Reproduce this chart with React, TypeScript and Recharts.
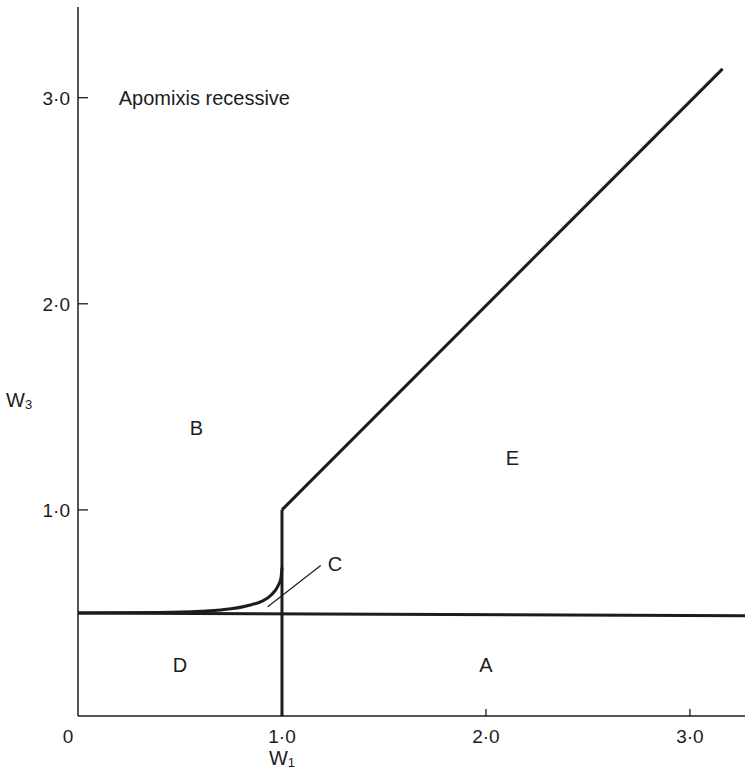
import { ComposedChart, Line, XAxis, YAxis, ReferenceDot } from "recharts";

// boundary lines (W1, W3)
const flatLine = [
  { x: 0, y: 0.5 },
  { x: 3.27, y: 0.487 },
];
const vertLine = [
  { x: 1, y: 0 },
  { x: 1, y: 1 },
];
const diagLine = [
  { x: 1, y: 1 },
  { x: 3.16, y: 3.14 },
];
const curveC = [
  { x: 0, y: 0.5 },
  { x: 0.4, y: 0.502 },
  { x: 0.6, y: 0.508 },
  { x: 0.75, y: 0.52 },
  { x: 0.85, y: 0.54 },
  { x: 0.9, y: 0.556 },
  { x: 0.95, y: 0.59 },
  { x: 0.98, y: 0.63 },
  { x: 0.995, y: 0.67 },
  { x: 1.0, y: 0.72 },
];
const leaderC = [
  { x: 0.93, y: 0.53 },
  { x: 1.19, y: 0.73 },
];

const xTicks = [0, 1, 2, 3];
const xTickLabels = ["0", "1·0", "2·0", "3·0"];
const yTicks = [1, 2, 3];
const yTickLabels = ["1·0", "2·0", "3·0"];

const regionLabels = [
  { x: 0.58, y: 1.4, text: "B" },
  { x: 2.13, y: 1.25, text: "E" },
  { x: 0.5, y: 0.25, text: "D" },
  { x: 2.0, y: 0.25, text: "A" },
  { x: 1.26, y: 0.74, text: "C" },
];
const title = { x: 0.2, y: 3.0, text: "Apomixis recessive" };

const ink = "#1c1c1c";
const font = "'Liberation Sans', Arial, Helvetica, sans-serif";

function XTick(props: any) {
  const { x, y, payload } = props;
  const i = xTicks.indexOf(payload.value);
  const shift = payload.value === 0 ? -10 : 0;
  return (
    <g>
      {payload.value >= 2 && (
        <line x1={x} x2={x} y1={y} y2={y - 7} stroke={ink} strokeWidth={1.3} />
      )}
      <text x={x + shift} y={y + 27} textAnchor="middle" fontSize={19} fill={ink} fontFamily={font}>
        {xTickLabels[i]}
      </text>
      {/* axis title sits under the 1·0 tick */}
      {payload.value === 1 && (
        <text x={x} y={y + 49} textAnchor="middle" fontSize={20} fill={ink} fontFamily={font}>
          W<tspan fontSize={13} dy={2}>1</tspan>
        </text>
      )}
    </g>
  );
}

function YTick(props: any) {
  const { x, y, payload } = props;
  const i = yTicks.indexOf(payload.value);
  return (
    <g>
      <line x1={x} x2={x + 10} y1={y} y2={y} stroke={ink} strokeWidth={1.3} />
      <text x={x - 8} y={y + 7} textAnchor="end" fontSize={19} fill={ink} fontFamily={font}>
        {yTickLabels[i]}
      </text>
    </g>
  );
}

export default function App() {
  return (
    <div style={{ position: "absolute", left: 0, top: 0, background: "#fff" }}>
      <ComposedChart
        width={747}
        height={771}
        margin={{ top: 7, right: 2, left: 18, bottom: 25 }}
      >
        <XAxis
          type="number"
          dataKey="x"
          domain={[0, 3.27]}
          ticks={xTicks}
          interval={0}
          minTickGap={0}
          allowDataOverflow
          tickSize={0}
          tickMargin={0}
          tickLine={false}
          tick={(p: any) => <XTick {...p} />}
          height={30}
          axisLine={{ stroke: ink, strokeWidth: 1.5 }}
        />
        <YAxis
          type="number"
          dataKey="y"
          domain={[0, 3.44]}
          ticks={yTicks}
          interval={0}
          allowDataOverflow
          tickSize={0}
          tickMargin={0}
          tickLine={false}
          tick={(p: any) => <YTick {...p} />}
          width={60}
          axisLine={{ stroke: ink, strokeWidth: 1.5 }}
          label={{
            content: () => (
              <text x={6} y={407} fontSize={20} fill={ink} fontFamily={font}>
                W<tspan fontSize={13} dy={2}>3</tspan>
              </text>
            ),
          }}
        />
        <Line data={flatLine} dataKey="y" stroke={ink} strokeWidth={3} dot={false} isAnimationActive={false} />
        <Line data={vertLine} dataKey="y" stroke={ink} strokeWidth={3} dot={false} isAnimationActive={false} />
        <Line data={diagLine} dataKey="y" stroke={ink} strokeWidth={3} dot={false} isAnimationActive={false} />
        <Line data={curveC} dataKey="y" type="monotone" stroke={ink} strokeWidth={3} dot={false} isAnimationActive={false} />
        <Line data={leaderC} dataKey="y" stroke={ink} strokeWidth={1.2} dot={false} isAnimationActive={false} />
        {regionLabels.map((r) => (
          <ReferenceDot
            key={r.text}
            x={r.x}
            y={r.y}
            r={0}
            fill="none"
            stroke="none"
            label={{ value: r.text, position: "center", fontSize: 20, fill: ink, fontFamily: font }}
          />
        ))}
        <ReferenceDot
          x={title.x}
          y={title.y}
          r={0}
          fill="none"
          stroke="none"
          label={{ value: title.text, position: "right", offset: 0, fontSize: 20, fill: ink, fontFamily: font }}
        />
      </ComposedChart>
    </div>
  );
}
